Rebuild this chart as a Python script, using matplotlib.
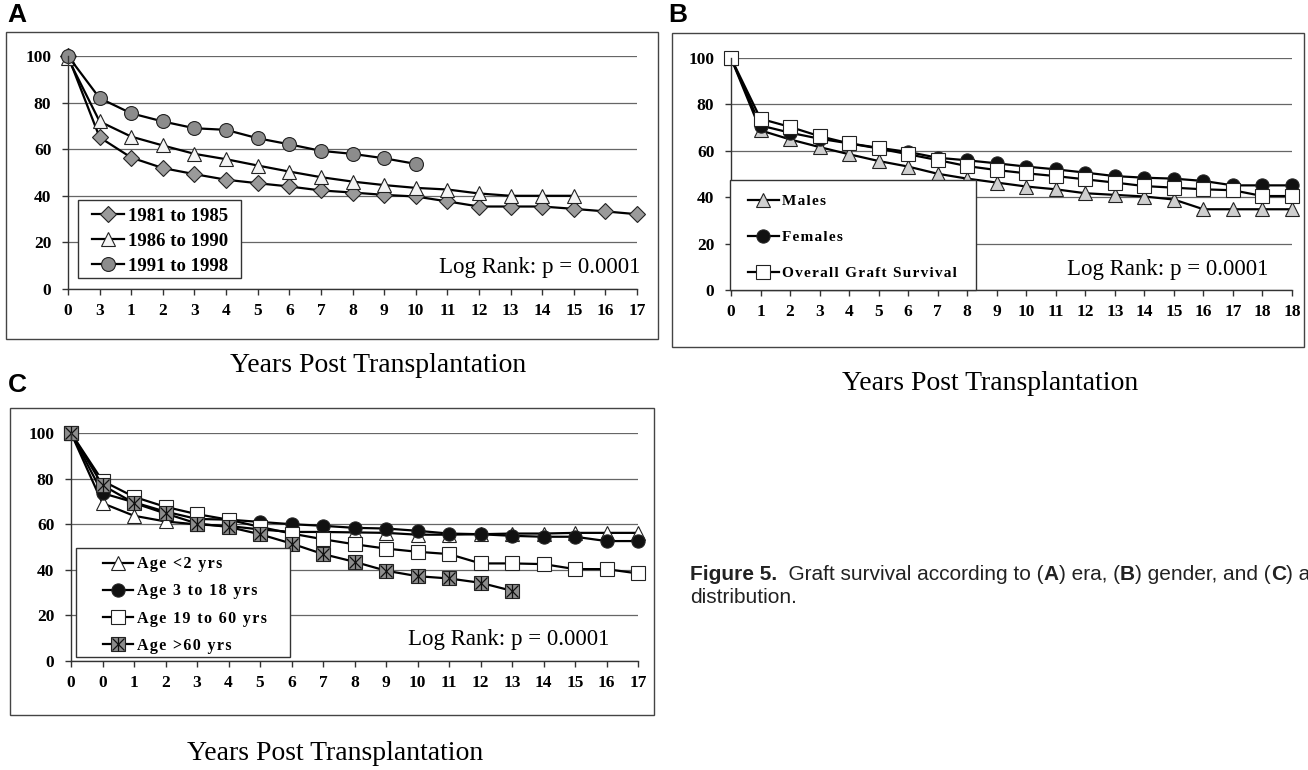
import matplotlib
matplotlib.use("Agg")
import matplotlib.pyplot as plt
from matplotlib.patches import Rectangle
from matplotlib.legend_handler import HandlerTuple

W, H = 1308, 770

# ---- data ----
a_ticks = ["0", "3", "1", "2", "3", "4", "5", "6", "7", "8", "9", "10",
           "11", "12", "13", "14", "15", "16", "17"]
a_1981 = [100, 65.1, 56.4, 51.9, 49.3, 46.9, 45.4, 44.0, 42.3, 41.4,
          40.4, 39.7, 37.6, 35.4, 35.4, 35.4, 34.4, 33.3, 32.1]
a_1986 = [99, 71.9, 65.4, 61.6, 58.0, 55.7, 53.0, 50.4, 48.0, 46.1,
          44.6, 43.4, 42.7, 41.0, 40.0, 40.0, 40.0]
a_1991 = [100, 81.9, 75.4, 71.9, 69.0, 68.3, 64.7, 62.1, 59.3, 58.0,
          56.1, 53.7]

b_ticks = ["0", "1", "2", "3", "4", "5", "6", "7", "8", "9", "10", "11",
           "12", "13", "14", "15", "16", "17", "18", "18"]
b_males = [100, 68.8, 64.9, 61.6, 58.5, 55.6, 53.2, 50.1, 48.0, 46.3,
           44.6, 43.4, 41.7, 41.0, 40.3, 39.0, 34.8, 34.8, 34.8, 34.8]
b_females = [100, 70.9, 67.8, 65.2, 63.2, 61.3, 59.5, 57.0, 55.9, 54.6,
             53.2, 52.0, 50.6, 49.1, 48.4, 48.0, 47.0, 45.1, 45.1, 45.1]
b_overall = [100, 73.8, 70.3, 66.3, 63.2, 61.0, 58.5, 56.0, 53.4, 51.7,
             50.3, 49.1, 47.7, 46.3, 44.8, 44.1, 43.4, 43.0, 40.5, 40.5]

c_ticks = ["0", "0", "1", "2", "3", "4", "5", "6", "7", "8", "9", "10",
           "11", "12", "13", "14", "15", "16", "17"]
c_lt2 = [100, 69.2, 63.7, 61.2, 59.9, 59.2, 57.7, 56.6, 56.6, 56.4,
         56.2, 55.4, 55.4, 55.6, 55.9, 55.9, 56.2, 56.2, 56.2]
c_3to18 = [100, 73.6, 69.6, 65.5, 62.3, 62.0, 61.0, 60.0, 59.3, 58.4,
           58.1, 57.1, 55.9, 55.6, 54.9, 54.5, 54.5, 52.6, 52.6]
c_19to60 = [100, 79.0, 72.0, 67.6, 64.4, 62.0, 58.8, 55.9, 53.4, 51.2,
            49.3, 47.9, 46.9, 42.8, 42.8, 42.5, 40.3, 40.3, 38.4]
c_gt60 = [100, 77.1, 69.3, 64.7, 60.3, 58.8, 55.6, 51.5, 46.9, 43.5,
          39.6, 37.2, 36.2, 34.3, 30.8]

SERIF = ["Liberation Serif", "DejaVu Serif"]
SANS = "Liberation Sans"
HS = "\u200a"  # hair space, the legends in B and C are letter-spaced

fig = plt.figure(figsize=(W / 100, H / 100), dpi=100)


def fx(px):
    return px / W


def fy(py):
    return 1 - py / H


def spaced(s):
    return HS.join(s)


def frame(x0, y0, x1, y1):
    fig.patches.append(Rectangle((fx(x0), fy(y1)), fx(x1 - x0), (y1 - y0) / H,
                                 transform=fig.transFigure, fill=False,
                                 ec="#444444", lw=1.0))


def make_ax(x0, x1, ytop, ybot, ticks):
    ax = fig.add_axes([fx(x0), fy(ybot), fx(x1 - x0), (ybot - ytop) / H])
    ax.set_xlim(0, len(ticks) - 1)
    ax.set_ylim(0, 100)
    ax.set_xticks(range(len(ticks)))
    ax.set_xticklabels(ticks)
    ax.set_yticks(range(0, 101, 20))
    for s in ("top", "right"):
        ax.spines[s].set_visible(False)
    for s in ("left", "bottom"):
        ax.spines[s].set_color("#333333")
        ax.spines[s].set_linewidth(1.0)
    ax.grid(axis="y", color="#666666", lw=0.9)
    ax.set_axisbelow(True)
    ax.tick_params(axis="x", length=4, width=1, color="#333333", pad=6)
    ax.tick_params(axis="y", length=4, width=1, color="#333333", pad=8)
    for lab in ax.get_xticklabels() + ax.get_yticklabels():
        lab.set_fontfamily(SERIF)
        lab.set_fontweight("bold")
        lab.set_fontsize(12.5)
    return ax


def series(ax, ys, marker, fc, ms=9):
    return ax.plot(range(len(ys)), ys, color="black", lw=1.6, marker=marker,
                   mfc=fc, mec="#222222", mew=0.8, ms=ms, clip_on=False)[0]


def legend(ax, box, handles, labels, hx, ymid, size, spacing, hlen, **kw):
    # the legend box in the original is wider than its contents,
    # so draw the box by hand and a frameless legend on top of it
    x0, y0, x1, y1 = box
    ax.add_patch(Rectangle((fx(x0), fy(y1)), fx(x1 - x0), (y1 - y0) / H,
                           transform=fig.transFigure, fc="white",
                           ec="#333333", lw=1.0, zorder=4, clip_on=False))
    leg = ax.legend(handles, labels, loc="center left",
                    bbox_to_anchor=(fx(hx), fy(ymid)), bbox_transform=fig.transFigure,
                    borderaxespad=0, borderpad=0, frameon=False,
                    labelspacing=spacing, handlelength=hlen, handletextpad=0.2,
                    prop={"family": SERIF, "size": size, "weight": "bold"}, **kw)
    return leg


def logrank(x, y):
    fig.text(fx(x), fy(y), "Log Rank: p = 0.0001", ha="right", va="center",
             family=SERIF, fontsize=16.5)


def xtitle(x, y):
    fig.text(fx(x), fy(y), "Years Post Transplantation", ha="center",
             va="center", family=SERIF, fontsize=20)


def letter(x, y, s):
    fig.text(fx(x), fy(y), s, ha="left", va="center", family=SANS,
             fontweight="bold", fontsize=19)


# ---- panel A ----
letter(7, 15, "A")
frame(6, 32, 658, 339)
axA = make_ax(68, 637, 56, 289, a_ticks)
hA1 = series(axA, a_1981, "D", "#9a9a9a", ms=8)
hA2 = series(axA, a_1986, "^", "#f4f4f4", ms=10)
hA3 = series(axA, a_1991, "o", "#8c8c8c", ms=10)
legend(axA, (78, 200, 241, 278), [hA1, hA2, hA3],
       ["1981 to 1985", "1986 to 1990", "1991 to 1998"],
       92, 241, 13.5, 0.42, 1.7)
logrank(640, 268)
xtitle(378, 365)

# ---- panel B ----
letter(668, 15, "B")
frame(672, 33, 1304, 347)
axB = make_ax(731, 1292, 58, 290, b_ticks)
hB1 = series(axB, b_males, "^", "#cfcfcf", ms=10)
hB2 = series(axB, b_females, "o", "#111111", ms=9.5)
hB3 = series(axB, b_overall, "s", "white", ms=10)
legend(axB, (730, 180, 976, 290), [hB1, hB2, hB3],
       [spaced("Males"), spaced("Females"), spaced("Overall Graft Survival")],
       748, 237.5, 11, 1.46, 2.0)
logrank(1268, 270)
xtitle(990, 383)

# ---- panel C ----
letter(8, 385, "C")
frame(10, 408, 654, 715)
axC = make_ax(71, 638, 433, 661, c_ticks)
hC1 = series(axC, c_lt2, "^", "white", ms=10)
hC2 = series(axC, c_3to18, "o", "#111111", ms=9.5)
hC3 = series(axC, c_19to60, "s", "white", ms=10)
hC4 = series(axC, c_gt60, "s", "#8c8c8c", ms=10)
starC = axC.plot(range(len(c_gt60)), c_gt60, ls="none", marker="x", ms=8,
                 mec="#111111", mew=0.9, clip_on=False)[0]
plusC = axC.plot(range(len(c_gt60)), c_gt60, ls="none", marker="|", ms=10,
                 mec="#111111", mew=0.9, clip_on=False)[0]
legend(axC, (76, 548, 290, 657), [hC1, hC2, hC3, (hC4, starC, plusC)],
       [spaced("Age <2 yrs"), spaced("Age 3 to 18 yrs"),
        spaced("Age 19 to 60 yrs"), spaced("Age >60 yrs")],
       103, 605, 11.5, 0.69, 1.9,
       handler_map={tuple: HandlerTuple(ndivide=1)})
logrank(609, 640)
xtitle(335, 753)

# ---- caption, built from pieces so the panel letters can be bold ----
# (the original is cropped at the right edge, mid-word)
pieces = [("Figure 5.", "bold"), ("  Graft survival according to (", "normal"),
          ("A", "bold"), (") era, (", "normal"), ("B", "bold"),
          (") gender, and (", "normal"), ("C", "bold"), (") age", "normal")]
renderer = fig.canvas.get_renderer()
xpos = 690
for txt, wt in pieces:
    t = fig.text(fx(xpos), fy(580), txt, ha="left", va="baseline",
                 family=SANS, fontsize=15, fontweight=wt, color="#222222")
    xpos += t.get_window_extent(renderer).width
fig.text(fx(690), fy(603), "distribution.", ha="left", va="baseline",
         family=SANS, fontsize=15, color="#222222")

fig.savefig("out.png", dpi=100)
